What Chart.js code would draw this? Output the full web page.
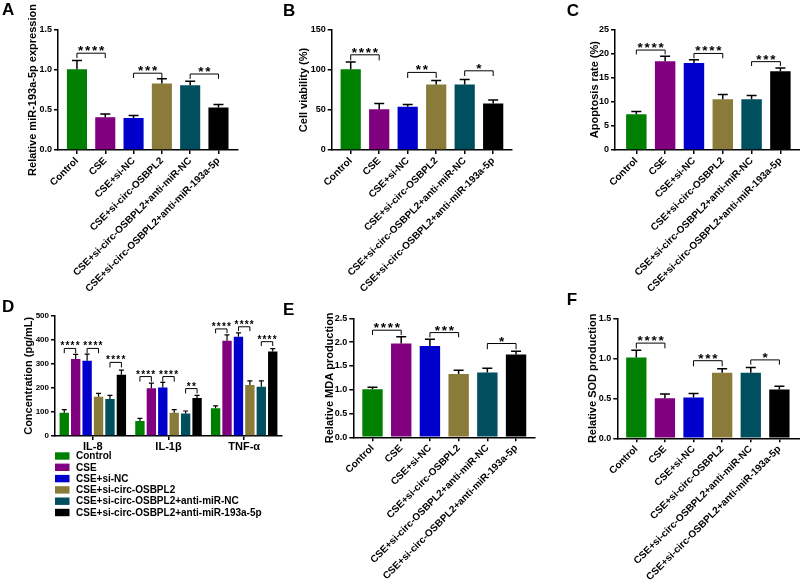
<!DOCTYPE html>
<html><head><meta charset="utf-8">
<script src="https://cdn.jsdelivr.net/npm/chart.js@4.4.0/dist/chart.umd.min.js"></script>
<style>
html,body{margin:0;padding:0;background:#fff;width:800px;height:581px;overflow:hidden;position:relative;}
canvas{position:absolute;}
.lt{position:absolute;font:bold 17px/17px 'Liberation Sans',Arial,sans-serif;color:#000;}
</style></head><body>
<canvas id="cA" width="270" height="300" style="left:0;top:0"></canvas>
<canvas id="cB" width="260" height="300" style="left:270px;top:0"></canvas>
<canvas id="cC" width="270" height="300" style="left:530px;top:0"></canvas>
<canvas id="cD" width="290" height="281" style="left:0;top:300px"></canvas>
<canvas id="cE" width="270" height="281" style="left:270px;top:300px"></canvas>
<canvas id="cF" width="270" height="281" style="left:530px;top:300px"></canvas>
<div class="lt" style="left:2px;top:0.6px">A</div>
<div class="lt" style="left:283px;top:1.6px">B</div>
<div class="lt" style="left:566.7px;top:2.3px">C</div>
<div class="lt" style="left:2px;top:298.3px">D</div>
<div class="lt" style="left:283px;top:300.6px">E</div>
<div class="lt" style="left:566.7px;top:290.6px">F</div>
<script>
const FONT = "'Liberation Sans', Arial, sans-serif";
Chart.defaults.font.family = FONT;
Chart.defaults.font.weight = 'bold';
Chart.defaults.color = '#000';

// ---------- data ----------
const groups = ['Control','CSE','CSE+si-NC','CSE+si-circ-OSBPL2','CSE+si-circ-OSBPL2+anti-miR-NC','CSE+si-circ-OSBPL2+anti-miR-193a-5p'];
const colors = ['#008000','#800080','#0000CD','#8B7B3A','#004F5F','#000000'];

// A: relative miR-193a-5p expression
const aMeans = [1.01, 0.41, 0.40, 0.83, 0.81, 0.53];
const aErrs  = [0.11, 0.04, 0.03, 0.06, 0.05, 0.04];
const aTicks = [0, 0.5, 1.0, 1.5];
const aSig   = [[0,0,0,1,1.21,1.15,'****'],[0,2,0,3,0.96,0.90,'***'],[0,4,0,5,0.95,0.89,'**']];

// B: cell viability (%)
const bMeans = [101, 51, 54, 82, 82, 58];
const bErrs  = [9, 7, 3, 5, 6, 4.5];
const bTicks = [0, 50, 100, 150];
const bSig   = [[0,0,0,1,119,112,'****'],[0,2,0,3,97,90,'**'],[0,4,0,5,99,92.5,'*']];

// C: apoptosis rate (%)
const cMeans = [7.4, 18.4, 18.0, 10.5, 10.5, 16.3];
const cErrs  = [0.6, 1.0, 0.7, 1.0, 0.8, 0.7];
const cTicks = [0, 5, 10, 15, 20, 25];
const cSig   = [[0,0,0,1,20.7,19.8,'****'],[0,2,0,3,20.0,19.0,'****'],[0,4,0,5,18.3,17.4,'***']];

// D: cytokine concentration (pg/mL)
const dCytokines = ['IL-8','IL-1β','TNF-α'];
const dControl = [97, 62, 115];   const dControlErr = [13, 11, 10];
const dCSE     = [320, 198, 396]; const dCSEErr     = [19, 22, 24];
const dSiNC    = [313, 202, 412]; const dSiNCErr    = [27, 21, 17];
const dOSBPL2  = [163, 97, 212];  const dOSBPL2Err  = [14, 13, 17];
const dAntiNC  = [154, 93, 205];  const dAntiNCErr  = [15, 11, 24];
const dAnti193 = [255, 158, 351]; const dAnti193Err = [19, 11, 12];
const dTicks = [0, 100, 200, 300, 400, 500];
const dSig = [
  [0,0,1,0,364,344,'****'],[2,0,3,0,364,344,'****'],[4,0,5,0,306,285,'****'],
  [0,1,1,1,247,226,'****'],[2,1,3,1,247,226,'****'],[4,1,5,1,197,177,'**'],
  [0,2,1,2,445,427,'****'],[2,2,3,2,454,436,'****'],[4,2,5,2,392,374,'****']
];

// E: relative MDA production
const eMeans = [1.01, 1.97, 1.92, 1.33, 1.36, 1.74];
const eErrs  = [0.04, 0.14, 0.14, 0.08, 0.09, 0.07];
const eTicks = [0, 0.5, 1.0, 1.5, 2.0, 2.5];
const eSig   = [[0,0,0,1,2.25,2.15,'****'],[0,2,0,3,2.20,2.10,'***'],[0,4,0,5,1.97,1.85,'*']];

// F: relative SOD production
const fMeans = [1.01, 0.50, 0.51, 0.82, 0.82, 0.61];
const fErrs  = [0.09, 0.055, 0.05, 0.05, 0.065, 0.04];
const fTicks = [0, 0.5, 1.0, 1.5];
const fSig   = [[0,0,0,1,1.19,1.125,'****'],[0,2,0,3,0.97,0.90,'***'],[0,4,0,5,0.98,0.92,'*']];

// ---------- overlay plugin: error bars + significance brackets ----------
function makeOverlay(sig, st) {
  return {
    id: 'overlay',
    afterDatasetsDraw(chart) {
      const ctx = chart.ctx, ys = chart.scales.y;
      ctx.save();
      ctx.strokeStyle = '#000'; ctx.fillStyle = '#000';
      chart.data.datasets.forEach((ds, di) => {
        const meta = chart.getDatasetMeta(di);
        meta.data.forEach((bar, i) => {
          const yTop = ys.getPixelForValue(ds.data[i] + ds.errors[i]);
          ctx.lineWidth = st.errW;
          ctx.beginPath();
          ctx.moveTo(bar.x, bar.y); ctx.lineTo(bar.x, yTop);
          ctx.moveTo(bar.x - st.cap / 2, yTop); ctx.lineTo(bar.x + st.cap / 2, yTop);
          ctx.stroke();
        });
      });
      ctx.lineWidth = 1;
      ctx.font = 'bold ' + st.starSize + 'px ' + FONT;
      const m = ctx.measureText('*');
      const asc = m.actualBoundingBoxAscent, desc = m.actualBoundingBoxDescent;
      ctx.textAlign = 'center'; ctx.textBaseline = 'alphabetic';
      sig.forEach(s => {
        const [d1, i1, d2, i2, yl, yd, txt] = s;
        const x1 = chart.getDatasetMeta(d1).data[i1].x;
        const x2 = chart.getDatasetMeta(d2).data[i2].x;
        const pl = ys.getPixelForValue(yl), pd = ys.getPixelForValue(yd);
        ctx.beginPath();
        ctx.moveTo(x1, pd); ctx.lineTo(x1, pl); ctx.lineTo(x2, pl); ctx.lineTo(x2, pd);
        ctx.stroke();
        const n = txt.length, cx = (x1 + x2) / 2;
        const base = (pl - st.starGap) + (asc - desc) / 2;
        for (let k = 0; k < n; k++) ctx.fillText('*', cx + (k - (n - 1) / 2) * st.starStep, base);
      });
      ctx.restore();
    }
  };
}

function axisY(ticks, dec, title, titleOff, width, tickFont) {
  return {
    min: ticks[0], max: ticks[ticks.length - 1],
    afterBuildTicks: s => { s.ticks = ticks.map(v => ({value: v})); },
    afterFit: s => { s.width = width; },
    grid: {display: true, drawOnChartArea: false, drawTicks: true, tickLength: 4, color: '#000', lineWidth: 1.5},
    border: {display: true, color: '#000', width: 1.5},
    ticks: {color: '#000', padding: 2, font: {size: tickFont, weight: 'bold'}, callback: v => Number(v).toFixed(dec)},
    title: {display: true, text: title, color: '#000', font: {size: 11, weight: 'bold'}, padding: {top: titleOff, bottom: 0}}
  };
}

function singleChart(id, W, H, area, exL, exR, means, errs, ticks, dec, title, titleOff, sig) {
  new Chart(document.getElementById(id), {
    type: 'bar',
    data: {
      labels: groups,
      datasets: [{data: means, errors: errs, backgroundColor: colors, borderWidth: 0,
                  categoryPercentage: 1, barPercentage: 0.71}]
    },
    options: {
      responsive: false, animation: false,
      layout: {padding: {left: 0, top: area.top, right: W - area.right, bottom: 0}},
      plugins: {legend: {display: false}, tooltip: {enabled: false}},
      scales: {
        x: {
          type: 'category',
          afterBuildTicks: s => { s._startValue = -0.5 - exL; s._valueRange = groups.length + exL + exR; },
          afterFit: s => { s.height = H - area.bottom; },
          grid: {display: true, drawOnChartArea: false, drawTicks: true, tickLength: 4, offset: false, color: '#000', lineWidth: 1.5},
          border: {display: true, color: '#000', width: 1.5},
          ticks: {autoSkip: false, minRotation: 45, maxRotation: 45, padding: 1, color: '#000', font: {size: 10, weight: 'bold'}}
        },
        y: axisY(ticks, dec, title, titleOff, area.left, 9)
      }
    },
    plugins: [makeOverlay(sig, {errW: 1.5, cap: 10, starSize: 13.5, starStep: 7, starGap: 4.5})]
  });
}

singleChart('cA', 270, 300, {left: 58, right: 238, top: 30, bottom: 150}, 0.17, 0.19,
  aMeans, aErrs, aTicks, 1, 'Relative miR-193a-5p expression', 26, aSig);
singleChart('cB', 260, 300, {left: 61.7, right: 241.7, top: 30, bottom: 150}, 0.167, 0.15,
  bMeans, bErrs, bTicks, 0, 'Cell viability (%)', 26.9, bSig);
singleChart('cC', 270, 300, {left: 85, right: 270, top: 29.3, bottom: 150}, 0.24, 0.18,
  cMeans, cErrs, cTicks, 0, 'Apoptosis rate (%)', 58.4, cSig);
singleChart('cE', 270, 281, {left: 83.3, right: 265, top: 18.3, bottom: 137.3}, 0.169, 0.16,
  eMeans, eErrs, eTicks, 1, 'Relative MDA production', 53, eSig);
singleChart('cF', 270, 281, {left: 87.3, right: 270, top: 18.3, bottom: 138.3}, 0.164, 0.22,
  fMeans, fErrs, fTicks, 1, 'Relative SOD production', 56.4, fSig);

// ---------- D: grouped bars ----------
const dSeries = [dControl, dCSE, dSiNC, dOSBPL2, dAntiNC, dAnti193];
const dSeriesErr = [dControlErr, dCSEErr, dSiNCErr, dOSBPL2Err, dAntiNCErr, dAnti193Err];
const dLegend = {
  id: 'dLegend',
  afterDraw(chart) {
    const ctx = chart.ctx;
    ctx.save();
    ctx.font = 'bold 10px ' + FONT;
    ctx.textAlign = 'left'; ctx.textBaseline = 'middle';
    chart.data.datasets.forEach((ds, i) => {
      const cy = 156 + i * 11.3;
      ctx.fillStyle = ds.backgroundColor;
      ctx.fillRect(55, cy - 3.7, 14.5, 7.4);
      ctx.fillStyle = '#000';
      ctx.fillText(ds.label, 76, cy + 0.5);
    });
    ctx.restore();
  }
};
new Chart(document.getElementById('cD'), {
  type: 'bar',
  data: {
    labels: dCytokines,
    datasets: groups.map((g, i) => ({label: g, data: dSeries[i], errors: dSeriesErr[i],
      backgroundColor: colors[i], borderWidth: 0, categoryPercentage: 0.906, barPercentage: 0.82}))
  },
  options: {
    responsive: false, animation: false,
    layout: {padding: {left: 0, top: 15.7, right: 290 - 282, bottom: 0}},
    plugins: {legend: {display: false}, tooltip: {enabled: false}},
    scales: {
      x: {
        afterFit: s => { s.height = 281 - 136; },
        grid: {display: true, drawOnChartArea: false, drawTicks: true, tickLength: 4, offset: false, color: '#000', lineWidth: 1.5},
        border: {display: true, color: '#000', width: 1.5},
        ticks: {autoSkip: false, minRotation: 0, maxRotation: 0, padding: 0, color: '#000', font: {size: 11, weight: 'bold'}}
      },
      y: axisY(dTicks, 0, 'Concentration (pg/mL)', 21.9, 55, 8)
    }
  },
  plugins: [makeOverlay(dSig, {errW: 1.2, cap: 5, starSize: 10, starStep: 5.1, starGap: 4.5}), dLegend]
});
</script>
</body></html>
